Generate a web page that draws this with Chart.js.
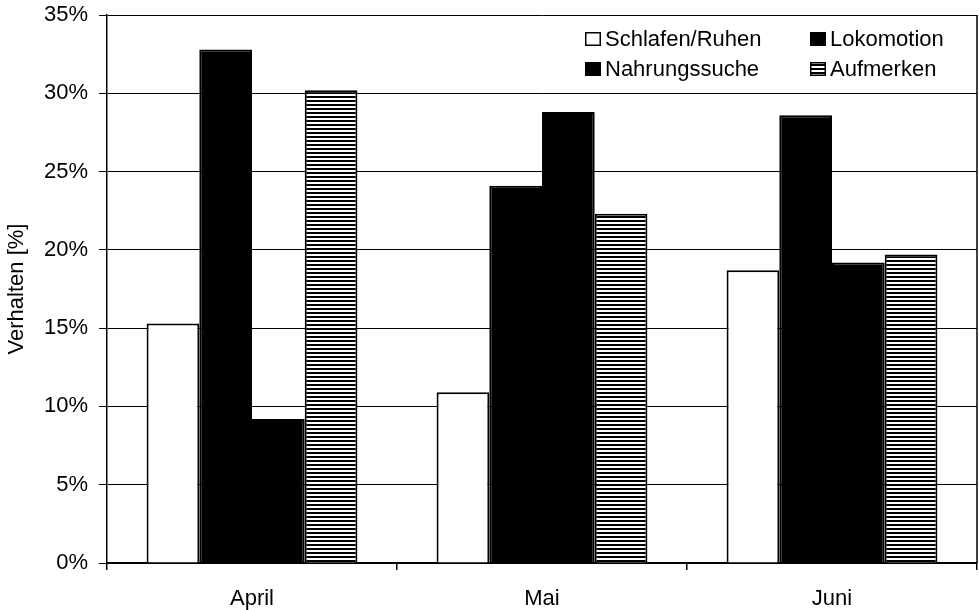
<!DOCTYPE html>
<html>
<head>
<meta charset="utf-8">
<script src="https://cdn.jsdelivr.net/npm/chart.js@4.4.1/dist/chart.umd.min.js"></script>
<style>
  html, body { margin: 0; padding: 0; background: #fff; }
  #wrap { width: 979px; height: 610px; }
</style>
</head>
<body>
<div id="wrap"><canvas id="c" width="979" height="610"></canvas></div>
<script>
// Monthly behaviour shares (percent of observation time)
const months = ['April', 'Mai', 'Juni'];
const seriesNames = ['Schlafen/Ruhen', 'Lokomotion', 'Nahrungssuche', 'Aufmerken'];
const schlafenRuhen = [15.3, 10.9, 18.7];
const lokomotion = [32.8, 24.1, 28.6];
const nahrungssuche = [9.2, 28.8, 19.2];
const aufmerken = [30.2, 22.3, 19.7];
const yTicks = [0, 5, 10, 15, 20, 25, 30, 35];

// Horizontal hatching used for "Aufmerken"
function stripes() {
  const p = document.createElement('canvas');
  p.width = 8; p.height = 4;
  const g = p.getContext('2d');
  g.fillStyle = '#fff'; g.fillRect(0, 0, 8, 4);
  g.fillStyle = '#000'; g.fillRect(0, 0, 8, 2);
  return g.createPattern(p, 'repeat');
}
const ctx = document.getElementById('c').getContext('2d');
const hatch = stripes();

const FONT = 'Liberation Sans, Arial, Helvetica, sans-serif';

// Legend drawn inside the plot area, two columns
const innerLegend = {
  id: 'innerLegend',
  afterDraw(chart) {
    const c = chart.ctx, a = chart.chartArea;
    const x0 = a.left + 478, y0 = a.top + 24, colW = 225, rowH = 30;
    c.save();
    c.font = '22px ' + FONT;
    c.textBaseline = 'middle';
    c.fillStyle = '#000';
    chart.data.datasets.forEach((ds, i) => {
      const col = i % 2, row = Math.floor(i / 2);
      const bx = x0 + col * colW, by = y0 + row * rowH;
      c.fillStyle = ds.backgroundColor;
      c.fillRect(bx, by - 7, 16, 14);
      c.lineWidth = 1.5;
      c.strokeStyle = '#000';
      c.strokeRect(bx + 0.75, by - 6.25, 14.5, 12.5);
      c.fillStyle = '#000';
      c.fillText(ds.label, bx + 20, by + 1);
    });
    c.restore();
  }
};

// Right-hand frame line of the plot area
const frame = {
  id: 'frame',
  afterDraw(chart) {
    const c = chart.ctx, a = chart.chartArea;
    c.save();
    c.strokeStyle = '#000';
    c.lineWidth = 1.5;
    c.beginPath();
    c.moveTo(a.right, a.top);
    c.lineTo(a.right, a.bottom);
    c.stroke();
    c.restore();
  }
};

const colors = ['#ffffff', '#000000', '#000000', hatch];
const values = [schlafenRuhen, lokomotion, nahrungssuche, aufmerken];

new Chart(ctx, {
  type: 'bar',
  data: {
    labels: months,
    datasets: seriesNames.map((name, i) => ({
      label: name,
      data: values[i],
      backgroundColor: colors[i],
      borderColor: '#000',
      borderWidth: 2,
      barPercentage: 1,
      categoryPercentage: 0.727
    }))
  },
  options: {
    responsive: false,
    animation: false,
    layout: { padding: { top: 15, right: 2, left: 0, bottom: 0 } },
    plugins: { legend: { display: false }, tooltip: { enabled: false } },
    scales: {
      x: {
        grid: { drawOnChartArea: false, drawTicks: true, tickLength: 7, color: '#000', lineWidth: 1.5, offset: true },
        border: { display: true, color: '#000', width: 2 },
        ticks: { color: '#000', font: { family: FONT, size: 22 }, padding: 16 },
        afterFit(s) { s.height = 47; }
      },
      y: {
        min: 0, max: 35,
        afterBuildTicks(s) { s.ticks = yTicks.map(v => ({ value: v })); },
        grid: { color: '#000', lineWidth: 1, tickLength: 8 },
        border: { display: true, color: '#000', width: 1.5 },
        ticks: { color: '#000', font: { family: FONT, size: 22 }, padding: 11, callback: v => v + '%' },
        title: { display: true, text: 'Verhalten [%]', color: '#000', font: { family: FONT, size: 22 }, padding: { top: 4, bottom: 0 } },
        afterFit(s) { s.width = 107; s.paddingTop = 0; s.paddingBottom = 0; }
      }
    }
  },
  plugins: [innerLegend, frame]
});
</script>
</body>
</html>
